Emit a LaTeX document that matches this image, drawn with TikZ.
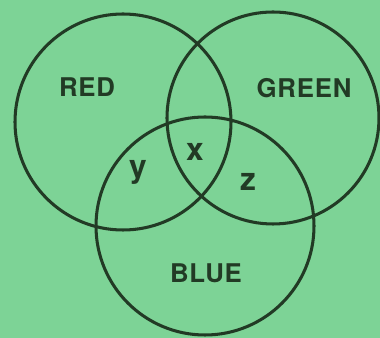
\documentclass[tikz,border=0pt]{standalone}
\usepackage{fontspec}
\setmainfont{TeX Gyre Heros}[LetterSpace=3]
\newfontfamily\letterfont{TeX Gyre Heros}
\usetikzlibrary{positioning}
\definecolor{paper}{HTML}{7DD396}
\definecolor{ink}{HTML}{223A25}

\begin{document}
\begin{tikzpicture}[x=0.03cm,y=0.03cm,
    ring/.style={draw=ink,line width=2.6pt},
    setname/.style={ink,font=\bfseries\fontsize{22}{22}\selectfont},
    part/.style={ink,font=\letterfont\bfseries\fontsize{27}{27}\selectfont}]
  \fill[paper] (0,0) rectangle (380,338);
  \useasboundingbox (0,0) rectangle (380,338);
  % circle centres
  \coordinate (red) at (123,216);
  \coordinate (green) at (273,220);
  \coordinate (blue) at (205,112);
  \draw[ring] (red) circle (108);
  \draw[ring] (green) circle (106);
  \draw[ring] (blue) circle (109);
  % labels
  \node[setname] (redlbl) at (87,251) {RED};
  \node[setname] (greenlbl) at (304,250) {GREEN};
  \node[setname] (bluelbl) at (206,65) {BLUE};
  \node[part] (xlbl) at (195,186) {x};
  \node[part] (ylbl) at (138,166) {y};
  \node[part] (zlbl) at (248,156) {z};
\end{tikzpicture}
\end{document}
